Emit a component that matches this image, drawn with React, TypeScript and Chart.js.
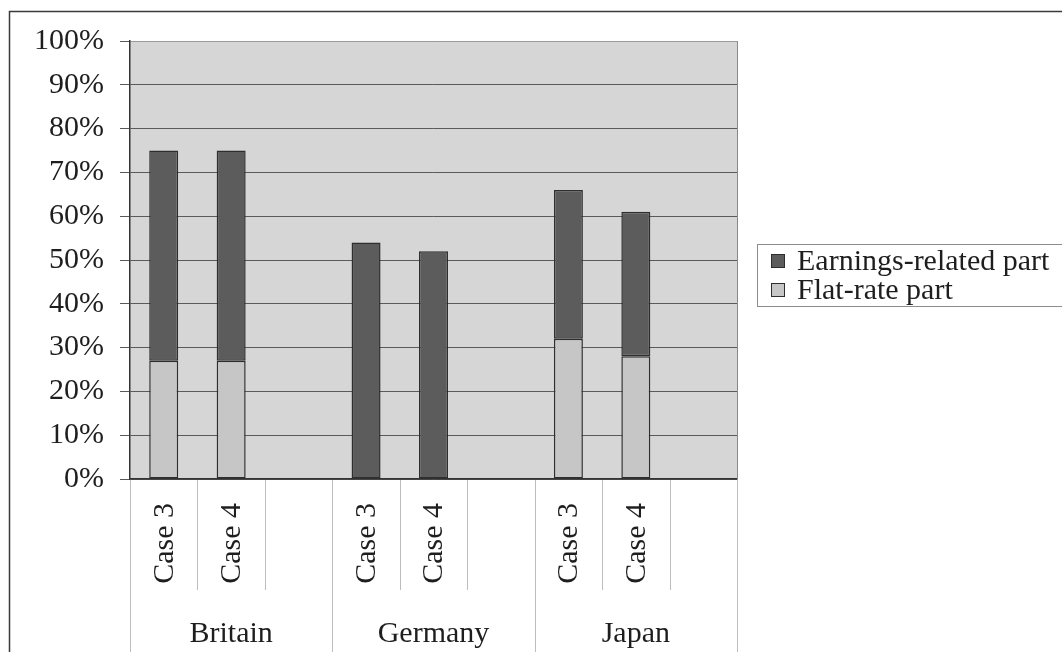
import React, { useEffect, useRef } from "react";
import { Chart, registerables } from "chart.js";

Chart.register(...registerables);

// Bar slots: two cases per country, followed by an empty gap slot
const caseLabels = ["Case 3", "Case 4", "", "Case 3", "Case 4", "", "Case 3", "Case 4", ""];
const countries = ["Britain", "Germany", "Japan"];
const flatRatePart = [27, 27, null, null, null, null, 32, 28, null];
const earningsRelatedPart = [48, 48, null, 54, 52, null, 34, 33, null];
const yTicks = [0, 10, 20, 30, 40, 50, 60, 70, 80, 90, 100];

const FONT = "'Liberation Serif', 'Times New Roman', serif";
const TEXT = "#1e1e1e";
const EARN_COLOR = "#5c5c5c";
const FLAT_COLOR = "#c6c6c6";
const BAR_BORDER = "#2e2e2e";

const decorations = {
  id: "decorations",
  beforeDraw(chart: any) {
    const { ctx, chartArea } = chart;
    ctx.save();
    ctx.fillStyle = "#ffffff";
    ctx.fillRect(0, 0, chart.width, chart.height);
    ctx.fillStyle = "#d6d6d6";
    ctx.fillRect(chartArea.left, chartArea.top, chartArea.right - chartArea.left, chartArea.bottom - chartArea.top);
    ctx.restore();
  },
  afterDraw(chart: any) {
    const { ctx, chartArea } = chart;
    const x = chart.scales.x;
    const half = (x.getPixelForValue(1) - x.getPixelForValue(0)) / 2;
    ctx.save();

    // outer frame
    ctx.strokeStyle = "#3a3a3a";
    ctx.lineWidth = 1.5;
    ctx.strokeRect(9.5, 11.5, chart.width + 20, chart.height + 20);

    // plot area right edge
    ctx.strokeStyle = "#8a8a8a";
    ctx.lineWidth = 1;
    ctx.beginPath();
    ctx.moveTo(Math.round(chartArea.right) + 0.5, chartArea.top);
    ctx.lineTo(Math.round(chartArea.right) + 0.5, chartArea.bottom);
    ctx.stroke();

    // category separators below the axis
    ctx.strokeStyle = "#bdbdbd";
    for (let k = 0; k <= caseLabels.length; k++) {
      const px = k < caseLabels.length ? x.getPixelForValue(k) - half : x.getPixelForValue(k - 1) + half;
      const bottom = k % 3 === 0 ? chart.height : 590;
      ctx.beginPath();
      ctx.moveTo(Math.round(px) + 0.5, chartArea.bottom + 1);
      ctx.lineTo(Math.round(px) + 0.5, bottom);
      ctx.stroke();
    }

    // rotated case labels
    ctx.fillStyle = TEXT;
    ctx.font = `30px ${FONT}`;
    caseLabels.forEach((label, i) => {
      if (!label) return;
      const px = x.getPixelForValue(i);
      ctx.save();
      ctx.translate(px, 503);
      ctx.rotate(-Math.PI / 2);
      ctx.textAlign = "right";
      ctx.textBaseline = "middle";
      ctx.fillText(label, 0, 1);
      ctx.restore();
    });

    // country labels centred under their groups
    ctx.textAlign = "center";
    ctx.textBaseline = "alphabetic";
    countries.forEach((name, g) => {
      const a = x.getPixelForValue(g * 3) - half;
      const b = x.getPixelForValue(g * 3 + 2) + half;
      ctx.fillText(name, (a + b) / 2, 642);
    });

    // legend
    const lx = 757.5;
    const ly = 244.5;
    ctx.strokeStyle = "#8c8c8c";
    ctx.lineWidth = 1;
    ctx.strokeRect(lx, ly, 400, 62);
    const items = [
      { text: chart.data.datasets[1].label, color: EARN_COLOR, y: 261 },
      { text: chart.data.datasets[0].label, color: FLAT_COLOR, y: 290 },
    ];
    ctx.textAlign = "left";
    ctx.textBaseline = "middle";
    items.forEach((it) => {
      ctx.fillStyle = it.color;
      ctx.fillRect(771, it.y - 7, 14, 14);
      ctx.strokeStyle = BAR_BORDER;
      ctx.strokeRect(771.5, it.y - 6.5, 13, 13);
      ctx.fillStyle = TEXT;
      ctx.fillText(it.text, 797, it.y + 1);
    });
    ctx.restore();
  },
};

export default function App() {
  const ref = useRef<HTMLCanvasElement | null>(null);

  useEffect(() => {
    if (!ref.current) return;
    const chart = new Chart(ref.current, {
      type: "bar",
      data: {
        labels: caseLabels,
        datasets: [
          {
            label: "Flat-rate part",
            data: flatRatePart,
            backgroundColor: FLAT_COLOR,
            borderColor: BAR_BORDER,
            borderWidth: 1.5,
            borderSkipped: false,
          },
          {
            label: "Earnings-related part",
            data: earningsRelatedPart,
            backgroundColor: EARN_COLOR,
            borderColor: BAR_BORDER,
            borderWidth: 1.5,
            borderSkipped: false,
          },
        ],
      },
      options: {
        responsive: false,
        animation: false,
        devicePixelRatio: 1,
        layout: { padding: { top: 41, right: 325, left: 0, bottom: 0 } },
        datasets: { bar: { categoryPercentage: 1, barPercentage: 0.43 } },
        plugins: { legend: { display: false }, tooltip: { enabled: false } },
        scales: {
          x: {
            stacked: true,
            offset: true,
            ticks: { display: false },
            grid: { display: false },
            border: { display: true, color: "#333333", width: 1.5 },
            afterFit: (s: any) => {
              s.height = 173;
            },
          },
          y: {
            stacked: true,
            min: 0,
            max: 100,
            afterBuildTicks: (s: any) => {
              s.ticks = yTicks.map((v) => ({ value: v }));
            },
            ticks: {
              callback: (v: any) => `${v}%`,
              color: TEXT,
              font: { family: FONT, size: 30 },
              padding: 16,
            },
            grid: {
              color: (c: any) => (c.tick && c.tick.value === 100 ? "#9a9a9a" : "#5a5a5a"),
              tickColor: "#5a5a5a",
              tickLength: 10,
              lineWidth: 1,
            },
            border: { display: true, color: "#333333", width: 1.5 },
            afterFit: (s: any) => {
              s.width = 130;
            },
          },
        },
      },
      plugins: [decorations],
    });
    return () => chart.destroy();
  }, []);

  return (
    <div style={{ position: "fixed", left: 0, top: 0, width: 1062, height: 652, background: "#fff" }}>
      <canvas ref={ref} width={1062} height={652} />
    </div>
  );
}
